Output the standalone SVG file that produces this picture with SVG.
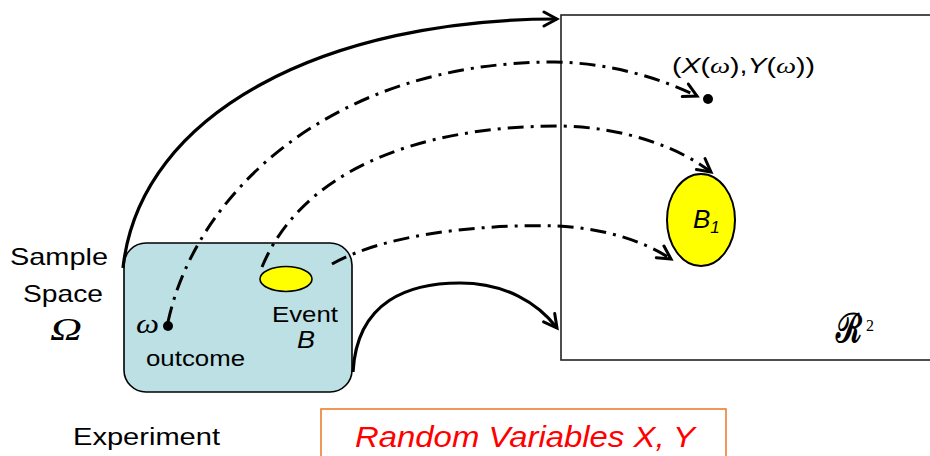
<svg xmlns="http://www.w3.org/2000/svg" width="930" height="456" viewBox="0 0 930 456">
<defs>
<style>
.lbl{font-family:"Liberation Sans",Arial,sans-serif;fill:#000}
.math{font-family:"Liberation Serif","Times New Roman",serif;font-style:italic;fill:#000}
.conn{fill:none;stroke:#000;stroke-width:3;stroke-linecap:butt}
.dd{stroke-dasharray:16 7 3 7}
.solid{stroke-width:3.2}
</style>
<marker id="ah" markerUnits="userSpaceOnUse" markerWidth="20" markerHeight="20" viewBox="0 0 20 20" refX="17" refY="10" orient="auto">
<path d="M4,3 L17,10 L4,17" fill="none" stroke="#000" stroke-width="3" stroke-linecap="round" stroke-linejoin="miter"/>
</marker>
</defs>
<rect width="930" height="456" fill="#fff"/>

<g id="r2-space">
<rect x="561" y="15" width="380" height="345" fill="#fff" stroke="#222" stroke-width="1.6"/>
<text x="836" y="342" font-size="40" font-weight="bold" font-family="'DejaVu Serif',serif" textLength="26" lengthAdjust="spacingAndGlyphs">ℛ</text>
<text x="866" y="331" font-size="16" font-family="'Liberation Serif','Times New Roman',serif" fill="#000">2</text>
</g>

<g id="point-xy">
<circle cx="708" cy="99" r="5" fill="#000"/>
<text class="lbl" x="672" y="73" font-size="22" textLength="143" lengthAdjust="spacingAndGlyphs">(<tspan font-style="italic">X</tspan>(<tspan class="math">ω</tspan>),<tspan font-style="italic">Y</tspan>(<tspan class="math">ω</tspan>))</text>
</g>

<g id="b1">
<ellipse cx="701" cy="220" rx="34" ry="46" fill="#ffff00" stroke="#000" stroke-width="2"/>
<text class="lbl" x="693" y="228" font-size="26" font-style="italic">B<tspan font-size="17" dy="5">1</tspan></text>
</g>

<g id="sample-space">
<rect x="124" y="243" width="228" height="149" rx="22" ry="22" fill="#bce0e4" stroke="#000" stroke-width="1.6"/>
<text class="lbl" x="10" y="265" font-size="24" textLength="98" lengthAdjust="spacingAndGlyphs">Sample</text>
<text class="lbl" x="23" y="302" font-size="24" textLength="80" lengthAdjust="spacingAndGlyphs">Space</text>
<text class="math" x="50" y="340" font-size="32" textLength="32" lengthAdjust="spacingAndGlyphs">Ω</text>
</g>

<g id="outcome">
<circle cx="168" cy="326" r="5" fill="#000"/>
<text class="math" x="136" y="333" font-size="28" textLength="23" lengthAdjust="spacingAndGlyphs">ω</text>
<text class="lbl" x="146" y="366" font-size="22" textLength="99" lengthAdjust="spacingAndGlyphs">outcome</text>
</g>

<g id="event-b">
<ellipse cx="286" cy="279" rx="26" ry="12.5" fill="#ffff00" stroke="#000" stroke-width="1.6"/>
<text class="lbl" x="272" y="322" font-size="22" textLength="66" lengthAdjust="spacingAndGlyphs">Event</text>
<text class="lbl" x="297" y="348" font-size="24" font-style="italic" textLength="18" lengthAdjust="spacingAndGlyphs">B</text>
</g>

<g id="experiment">
<text class="lbl" x="73" y="445" font-size="23" textLength="147" lengthAdjust="spacingAndGlyphs">Experiment</text>
</g>

<g id="random-variables">
<rect x="321" y="409" width="405" height="60" fill="#fff" stroke="#ed7d31" stroke-width="1.6"/>
<text x="355" y="447" font-size="30" font-style="italic" font-family="'Liberation Sans',Arial,sans-serif" fill="#ff0000" textLength="340" lengthAdjust="spacingAndGlyphs">Random Variables X, Y</text>
</g>

<g id="connectors">
<path class="conn solid" d="M123,268 C 140,110 330,19 557,19" marker-end="url(#ah)"/>
<path class="conn dd" d="M168,322 C 195,195 330,62 555,62 C 610,63 660,78 697,96" marker-end="url(#ah)"/>
<path class="conn dd" d="M262,267 C 300,175 410,126 560,126 C 625,127 680,148 711,172" marker-end="url(#ah)"/>
<path class="conn dd" d="M332,264 C 385,234 480,224 557,226 C 602,228 642,240 671,259" marker-end="url(#ah)"/>
<path class="conn solid" d="M353,372 C 357,300 410,283 460,283 C 505,283 538,303 557,328" marker-end="url(#ah)"/>
</g>
</svg>
